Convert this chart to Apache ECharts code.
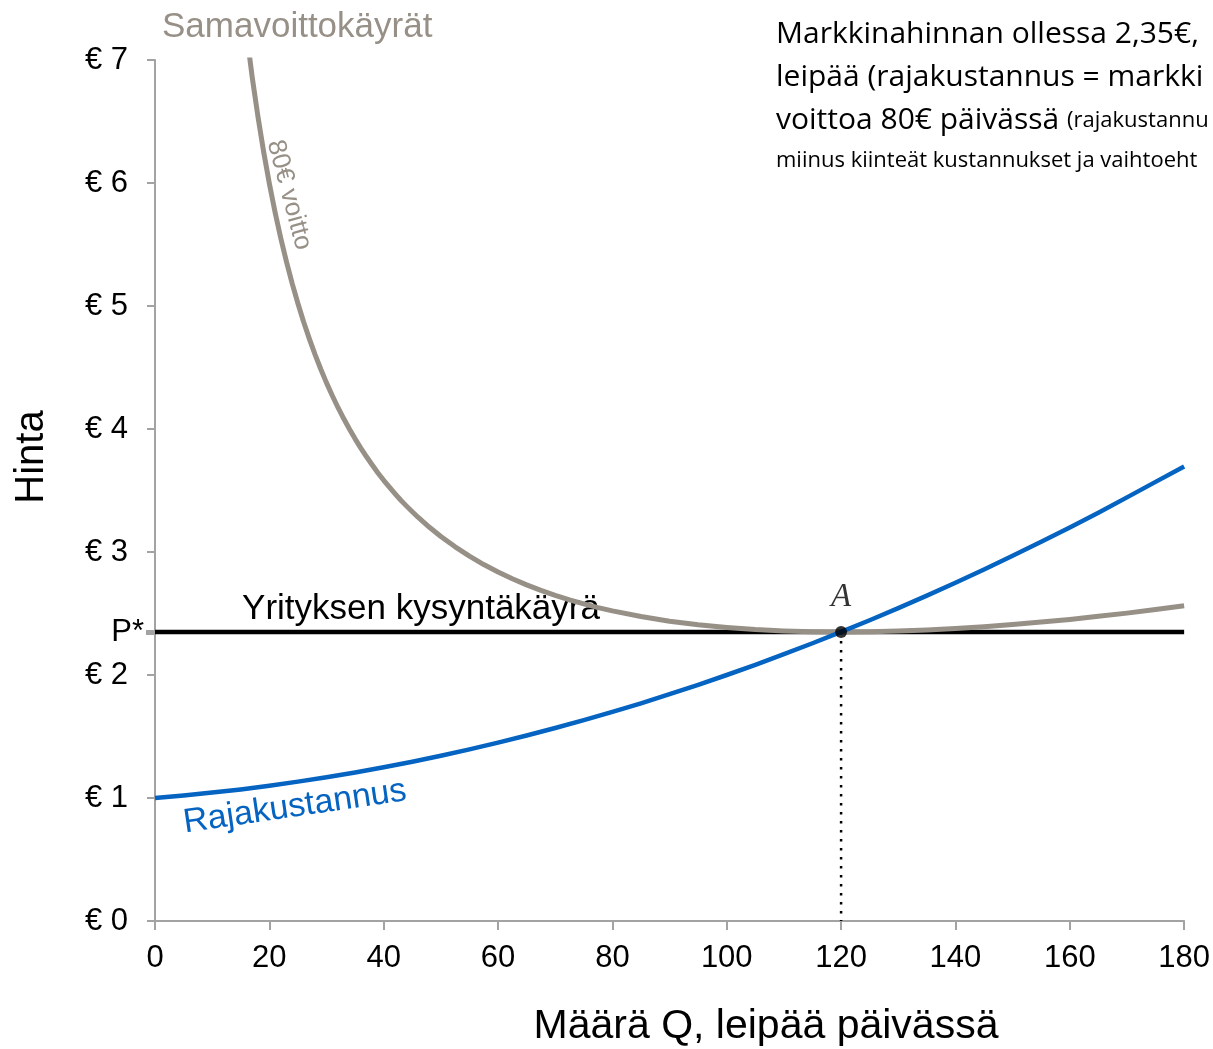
<!DOCTYPE html>
<html>
<head>
<meta charset="utf-8">
<script src="https://cdn.jsdelivr.net/npm/echarts@6/dist/echarts.min.js"></script>
<style>
  html, body { margin: 0; padding: 0; background: #fff; }
  #main { width: 1213px; height: 1049px; }
</style>
</head>
<body>
<div id="main"></div>
<script>
//x-akselin jaotus
let qTicks = [0, 20, 40, 60, 80, 100, 120, 140, 160, 180]
//y-akselin jaotus
let priceTicks = [0, 1, 2, 3, 4, 5, 6, 7]

//rajakustannus (luettu kuvasta)
let mcQ = [0, 5, 10, 15, 20, 25, 30, 35, 40, 45, 50, 55, 60, 65, 70, 75, 80, 85, 90, 95,
    100, 105, 110, 115, 120, 125, 130, 135, 140, 145, 150, 155, 160, 165, 170, 175, 180]
let mcP = [1.000, 1.020, 1.044, 1.070, 1.100, 1.133, 1.169, 1.208, 1.250, 1.295, 1.344, 1.395, 1.450, 1.508, 1.569, 1.633, 1.700, 1.770, 1.844, 1.920,
    2.000, 2.083, 2.169, 2.258, 2.350, 2.445, 2.544, 2.645, 2.750, 2.858, 2.969, 3.083, 3.200, 3.320, 3.444, 3.570, 3.695]

//samavoittokäyrä 80€ (luettu kuvasta)
let isoQ = [16, 17, 18, 19, 20, 21, 22, 23, 24, 25, 26, 27, 28, 29, 30, 31, 32, 33, 34, 35, 36, 37, 38, 39, 40,
    41, 42, 43, 44, 45, 46, 48, 50, 52.5, 55, 57.5, 60, 62.5, 65, 67.5, 70, 72.5, 75, 77.5, 80,
    85, 90, 95, 100, 105, 110, 115, 120, 125, 130, 135, 140, 145, 150, 155, 160, 165, 170, 175, 180]
let isoP = [7.223, 6.861, 6.541, 6.254, 5.996, 5.763, 5.551, 5.359, 5.182, 5.020, 4.870, 4.733, 4.605, 4.486, 4.375, 4.272, 4.175, 4.085, 4.000, 3.920, 3.845, 3.774, 3.707, 3.643, 3.583,
    3.527, 3.473, 3.421, 3.373, 3.327, 3.283, 3.201, 3.126, 3.042, 2.966, 2.898, 2.838, 2.783, 2.733, 2.688, 2.648, 2.611, 2.578, 2.548, 2.521,
    2.475, 2.437, 2.408, 2.386, 2.369, 2.358, 2.352, 2.350, 2.352, 2.357, 2.366, 2.378, 2.393, 2.410, 2.430, 2.452, 2.477, 2.503, 2.532, 2.563]

//markkinahinta ja optimi
let marketPrice = 2.35
let optimumQ = 120

let grayColor = '#979087'
let blueColor = '#0563c1'
let axisColor = '#a3a3a3'
let sans = '"Liberation Sans", Arial, sans-serif'
let noteFont = '"Open Sans", "Noto Sans", sans-serif'

let myChart = echarts.init(document.getElementById('main'))

let mcData = mcQ.map((q, i) => [q, mcP[i]])
let isoData = isoQ.map((q, i) => [q, isoP[i]])

let option = {
    backgroundColor: '#fff',
    animation: false,
    grid: { left: 155, right: 28, top: 60, bottom: 128 },
    xAxis: {
        type: 'value',
        min: qTicks[0],
        max: qTicks[qTicks.length - 1],
        interval: 20,
        axisLine: { show: true, lineStyle: { color: axisColor, width: 2 } },
        axisTick: { show: true, length: 9, lineStyle: { color: axisColor, width: 2 } },
        axisLabel: { color: '#000', fontSize: 31, fontFamily: sans, margin: 22 },
        splitLine: { show: false }
    },
    yAxis: {
        type: 'value',
        min: priceTicks[0],
        max: priceTicks[priceTicks.length - 1],
        interval: 1,
        axisLine: { show: true, lineStyle: { color: axisColor, width: 2 } },
        axisTick: { show: true, length: 8, lineStyle: { color: axisColor, width: 2 } },
        axisLabel: { color: '#000', fontSize: 31, fontFamily: sans, margin: 27, formatter: '€ {value}' },
        splitLine: { show: false }
    },
    series: [
        {
            //yrityksen kysyntäkäyrä
            type: 'line',
            data: [[qTicks[0], marketPrice], [qTicks[qTicks.length - 1], marketPrice]],
            showSymbol: false,
            lineStyle: { color: '#000', width: 4.5 },
            z: 2
        },
        {
            //pystysuora pisteviiva
            type: 'line',
            data: [[optimumQ, marketPrice], [optimumQ, 0]],
            showSymbol: false,
            lineStyle: { color: '#000', width: 2.5, type: [2.5, 6.5] },
            z: 2
        },
        {
            //samavoittokäyrä
            type: 'line',
            data: isoData,
            smooth: false,
            showSymbol: false,
            clip: true,
            lineStyle: { color: grayColor, width: 5, join: 'round' },
            z: 3
        },
        {
            //rajakustannus
            type: 'line',
            data: mcData,
            smooth: false,
            showSymbol: false,
            lineStyle: { color: blueColor, width: 4.5, join: 'round' },
            z: 4
        },
        {
            //piste A
            type: 'scatter',
            data: [[optimumQ, marketPrice]],
            symbolSize: 12,
            itemStyle: { color: '#000' },
            label: {
                show: true,
                position: 'top',
                distance: 12,
                formatter: 'A',
                color: '#000',
                fontSize: 33,
                fontStyle: 'italic',
                fontFamily: '"Liberation Serif", "Times New Roman", serif'
            },
            z: 5
        }
    ],
    graphic: [
        {
            type: 'text', x: 162, y: 27,
            style: { text: 'Samavoittokäyrät', fill: grayColor, fontSize: 35, fontFamily: sans, verticalAlign: 'middle' }
        },
        {
            type: 'text', x: 289, y: 195, rotation: -1.31,
            style: { text: '80€ voitto', fill: grayColor, fontSize: 26, fontFamily: sans, align: 'center', verticalAlign: 'middle' }
        },
        {
            type: 'text', x: 295, y: 807, rotation: 0.145,
            style: { text: 'Rajakustannus', fill: blueColor, fontSize: 34, fontFamily: sans, align: 'center', verticalAlign: 'middle' }
        },
        {
            type: 'text', x: 421, y: 609,
            style: { text: 'Yrityksen kysyntäkäyrä', fill: '#000', fontSize: 35, fontFamily: sans, align: 'center', verticalAlign: 'middle' }
        },
        {
            type: 'text', x: 144, y: 632,
            style: { text: 'P*', fill: '#000', fontSize: 31, fontFamily: sans, align: 'right', verticalAlign: 'middle' }
        },
        {
            type: 'rect', shape: { x: 146, y: 630, width: 9, height: 5 },
            style: { fill: axisColor }
        },
        {
            type: 'text', x: 766, y: 1027,
            style: { text: 'Määrä Q, leipää päivässä', fill: '#000', fontSize: 41, fontFamily: sans, align: 'center', verticalAlign: 'middle' }
        },
        {
            type: 'text', x: 32, y: 457, rotation: Math.PI / 2,
            style: { text: 'Hinta', fill: '#000', fontSize: 40, fontFamily: sans, align: 'center', verticalAlign: 'middle' }
        },
        {
            type: 'text', left: 776, top: 13,
            style: {
                text: 'Markkinahinnan ollessa 2,35€,\nleipää (rajakustannus = markki\n{b|voittoa 80€ päivässä }{s|(rajakustannu}\n{s|miinus kiinteät kustannukset ja vaihtoeht}',
                fill: '#000',
                fontSize: 30,
                lineHeight: 43,
                fontFamily: noteFont,
                rich: {
                    b: { fontSize: 30, lineHeight: 43, fontFamily: noteFont },
                    s: { fontSize: 22, lineHeight: 38, fontFamily: noteFont }
                }
            }
        }
    ]
}

myChart.setOption(option)
</script>
</body>
</html>
